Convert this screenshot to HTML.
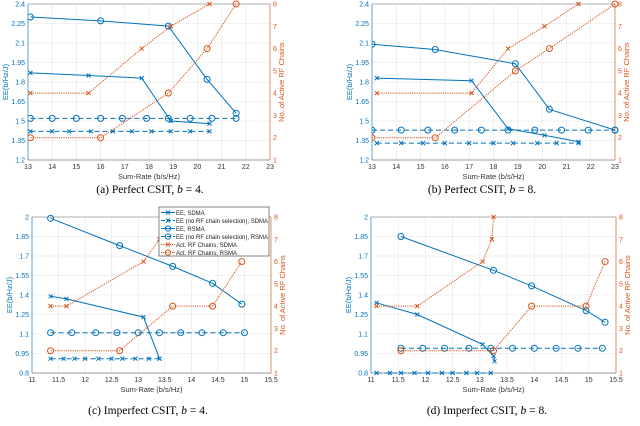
<!DOCTYPE html>
<html><head><meta charset="utf-8"><style>
body{margin:0;background:#fff;}
svg{display:block;font-family:"Liberation Sans",sans-serif;}
.cap{font-family:"Liberation Serif",serif;font-size:11.5px;fill:#000;}
</style></head>
<body>
<svg id="fig" width="640" height="426" viewBox="0 0 640 426" xmlns="http://www.w3.org/2000/svg"></svg>
<script>
// ---- Panel (a) data ----
const aSdmaX=[13.1,15.5,17.7,18.9,20.5];
const aSdmaY=[1.87,1.85,1.83,1.50,1.48];
const aSdmaNsX=[13.1,14.0,14.7,15.6,16.5,17.3,18.1,18.9,19.7,20.5];
const aSdmaNsY=[1.42,1.42,1.42,1.42,1.42,1.42,1.42,1.42,1.42,1.42];
const aRsmaX=[13.1,16.0,18.8,20.4,21.6];
const aRsmaY=[2.30,2.27,2.23,1.82,1.56];
const aRsmaNsX=[13.1,14.0,15.0,16.0,16.9,17.9,18.8,19.7,20.6,21.6];
const aRsmaNsY=[1.52,1.52,1.52,1.52,1.52,1.52,1.52,1.52,1.52,1.52];
const aActSdma=[4,4,6,7,8];
const aActRsma=[2,2,4,6,8];
// ---- Panel (b) data ----
const bSdmaX=[13.2,17.1,18.6,20.1,21.5];
const bSdmaY=[1.83,1.81,1.44,1.39,1.34];
const bSdmaNsX=[13.2,14.2,15.1,16.0,17.0,18.0,18.8,19.8,20.6,21.5];
const bSdmaNsY=[1.33,1.33,1.33,1.33,1.33,1.33,1.33,1.33,1.33,1.33];
const bRsmaX=[13.0,15.6,18.9,20.3,23.0];
const bRsmaY=[2.09,2.05,1.94,1.59,1.43];
const bRsmaNsX=[13.0,14.2,15.3,16.4,17.5,18.6,19.7,20.8,21.9,23.0];
const bRsmaNsY=[1.43,1.43,1.43,1.43,1.43,1.43,1.43,1.43,1.43,1.43];
const bActSdma=[4,4,6,7,8];
const bActRsma=[2,2,5,6,8];
// ---- Panel (c) data ----
const cSdmaX=[11.35,11.65,13.1,13.4];
const cSdmaY=[1.39,1.37,1.23,0.91];
const cSdmaNsX=[11.35,11.6,11.8,12.0,12.25,12.5,12.7,12.95,13.2,13.4];
const cSdmaNsY=[0.91,0.91,0.91,0.91,0.91,0.91,0.91,0.91,0.91,0.91];
const cRsmaX=[11.35,12.65,13.65,14.4,14.95];
const cRsmaY=[1.99,1.78,1.62,1.49,1.33];
const cRsmaNsX=[11.35,11.75,12.2,12.6,13.0,13.4,13.8,14.2,14.6,15.0];
const cRsmaNsY=[1.11,1.11,1.11,1.11,1.11,1.11,1.11,1.11,1.11,1.11];
const cActSdmaX=[11.35,11.65,13.1,13.4,13.5];
const cActSdma=[4,4,6,7,8];
const cActRsma=[2,2,4,4,6];
// ---- Panel (d) data ----
const dSdmaX=[11.1,11.85,13.05,13.25,13.27];
const dSdmaY=[1.34,1.25,1.02,0.93,0.89];
const dSdmaNsX=[11.1,11.35,11.55,11.8,12.05,12.3,12.5,12.75,12.95,13.2];
const dSdmaNsY=[0.8,0.8,0.8,0.8,0.8,0.8,0.8,0.8,0.8,0.8];
const dRsmaX=[11.55,13.25,13.95,14.95,15.3];
const dRsmaY=[1.85,1.59,1.47,1.28,1.19];
const dRsmaNsX=[11.55,11.95,12.35,12.8,13.2,13.6,14.0,14.4,14.8,15.25];
const dRsmaNsY=[0.99,0.99,0.99,0.99,0.99,0.99,0.99,0.99,0.99,0.99];
const dActSdmaX=[11.1,11.85,13.05,13.22,13.25];
const dActSdma=[4,4,6,7,8];
const dActRsma=[2,2,4,4,6];
// ---- ticks ----
const topXTicks=[13,14,15,16,17,18,19,20,21,22,23];
const topYTicks=[1.2,1.35,1.5,1.65,1.8,1.95,2.1,2.25,2.4];
const botXTicks=[11,11.5,12,12.5,13,13.5,14,14.5,15,15.5];
const botYTicks=[0.8,0.95,1.1,1.25,1.4,1.55,1.7,1.85,2];
const rTicks=[1,2,3,4,5,6,7,8];
const captions=["(a) Perfect CSIT, ","(b) Perfect CSIT, ","(c) Imperfect CSIT, ","(d) Imperfect CSIT, "];

const NS="http://www.w3.org/2000/svg";
const svg=document.getElementById('fig');
const BLUE="#0072BD", OR="#D95319";
function mk(tag,attrs,parent){const e=document.createElementNS(NS,tag);for(const k in attrs)e.setAttribute(k,attrs[k]);(parent||svg).appendChild(e);return e;}
function fmt(v){return String(Math.round(v*100)/100);}

function panel(id,L,R,T,B,xmin,xmax,ymin,ymax,xt,yt,cap,capX,capY,series){
  const g=mk('g',{});
  
  
  const sx=v=>L+(v-xmin)/(xmax-xmin)*(R-L);
  const sy=v=>B-(v-ymin)/(ymax-ymin)*(B-T);
  const sr=v=>B-(v-1)/7*(B-T);
  // grid
  xt.forEach(v=>{const l=mk('line',{x1:sx(v),x2:sx(v),y1:T,y2:B,stroke:'#e6e6e6','stroke-width':0.6},g);});
  yt.forEach(v=>{const l=mk('line',{x1:L,x2:R,y1:sy(v),y2:sy(v),stroke:'#e6e6e6','stroke-width':0.6},g);});
  // axes
  const top=mk('line',{x1:L,x2:R,y1:T,y2:T,stroke:'#999','stroke-width':0.8},g);
  const bx=mk('line',{x1:L,x2:R,y1:B,y2:B,stroke:'#444','stroke-width':0.6},g);
  const ly=mk('line',{x1:L,x2:L,y1:T,y2:B,stroke:BLUE,'stroke-width':0.6},g);
  const ry=mk('line',{x1:R,x2:R,y1:T,y2:B,stroke:OR,'stroke-width':0.6},g);
  xt.forEach(v=>{const t=mk('text',{x:sx(v),y:B+9,'font-size':7,'text-anchor':'middle',fill:'#333'},g);t.textContent=fmt(v);});
  yt.forEach(v=>{const t=mk('text',{x:L-3,y:sy(v)+2.5,'font-size':7,'text-anchor':'end',fill:BLUE},g);t.textContent=fmt(v);});
  rTicks.forEach(v=>{const t=mk('text',{x:R+3,y:sr(v)+2.5,'font-size':7,'text-anchor':'start',fill:OR},g);t.textContent=v;});
  const xl=mk('text',{x:(L+R)/2,y:B+19,'font-size':7.5,'text-anchor':'middle',fill:'#333'},g);xl.textContent='Sum-Rate (b/s/Hz)';
  const yl=mk('text',{x:0,y:0,'font-size':7.5,'text-anchor':'middle',fill:BLUE,transform:`translate(${L-20},${(T+B)/2}) rotate(-90)`},g);yl.textContent='EE(b/Hz/J)';
  const rl=mk('text',{x:0,y:0,'font-size':7.5,'text-anchor':'middle',fill:OR,transform:`translate(${R+14},${(T+B)/2}) rotate(-90)`},g);rl.textContent='No. of Active RF Chains';
  const c=mk('text',{x:capX,y:capY,'text-anchor':'middle',class:'cap'},g);c.textContent=cap;
  const it=mk('tspan',{'font-style':'italic'},c);it.textContent='b';
  const t2=mk('tspan',{},c);t2.textContent=' = '+(id==='a'||id==='c'?'4':'8')+'.';
  
  const clip=mk('clipPath',{id:'clip'+id},g);mk('rect',{x:L,y:T-6,width:R-L+6,height:B-T+12},clip);
  const sg=mk('g',{'clip-path':`url(#clip${id})`},g);
  series.forEach(s=>{
    const Y=s.right?sr:sy;
    const pts=s.x.map((v,i)=>sx(v).toFixed(1)+','+Y(s.y[i]).toFixed(1)).join(' ');
    const pl=mk('polyline',{points:pts,fill:'none',stroke:s.c,'stroke-width':1,'stroke-dasharray':s.dash||'none'},sg);
    
    
    s.x.forEach((v,i)=>{
      const px=sx(v),py=Y(s.y[i]);
      if(s.m==='o'){const m=mk('circle',{cx:px,cy:py,r:3,fill:'none',stroke:s.c,'stroke-width':1},sg);}
      else{const m=mk('path',{d:`M${px-2},${py-2}L${px+2},${py+2}M${px-2},${py+2}L${px+2},${py-2}`,stroke:s.c,'stroke-width':1},sg);}
    });
  });
  return {sx,sy};
}
function S(name,x,y,m,c,dash,right){return {name,x,y,m,c,dash,right};}
panel('a',28,270,4,160,13,23,1.2,2.4,topXTicks,topYTicks,captions[0],150,193,[
 S('ee-sdma-no-selection',aSdmaNsX,aSdmaNsY,'x',BLUE,'5,3'),
 S('ee-rsma-no-selection',aRsmaNsX,aRsmaNsY,'o',BLUE,'5,3'),
 S('ee-sdma',aSdmaX,aSdmaY,'x',BLUE),
 S('ee-rsma',aRsmaX,aRsmaY,'o',BLUE),
 S('act-rf-sdma',aSdmaX,aActSdma,'x',OR,'1.2,1',true),
 S('act-rf-rsma',aRsmaX,aActRsma,'o',OR,'1.2,1',true)]);
panel('b',372,615,4,160,13,23,1.2,2.4,topXTicks,topYTicks,captions[1],482,193,[
 S('ee-sdma-no-selection',bSdmaNsX,bSdmaNsY,'x',BLUE,'5,3'),
 S('ee-rsma-no-selection',bRsmaNsX,bRsmaNsY,'o',BLUE,'5,3'),
 S('ee-sdma',bSdmaX,bSdmaY,'x',BLUE),
 S('ee-rsma',bRsmaX,bRsmaY,'o',BLUE),
 S('act-rf-sdma',bSdmaX,bActSdma,'x',OR,'1.2,1',true),
 S('act-rf-rsma',bRsmaX,bActRsma,'o',OR,'1.2,1',true)]);
panel('c',32,271,217,373,11,15.5,0.8,2,botXTicks,botYTicks,captions[2],148,414,[
 S('ee-sdma-no-selection',cSdmaNsX,cSdmaNsY,'x',BLUE,'5,3'),
 S('ee-rsma-no-selection',cRsmaNsX,cRsmaNsY,'o',BLUE,'5,3'),
 S('ee-sdma',cSdmaX,cSdmaY,'x',BLUE),
 S('ee-rsma',cRsmaX,cRsmaY,'o',BLUE),
 S('act-rf-sdma',cActSdmaX,cActSdma,'x',OR,'1.2,1',true),
 S('act-rf-rsma',cRsmaX,cActRsma,'o',OR,'1.2,1',true)]);
panel('d',371,616,217,373,11,15.5,0.8,2,botXTicks,botYTicks,captions[3],487,414,[
 S('ee-sdma-no-selection',dSdmaNsX,dSdmaNsY,'x',BLUE,'5,3'),
 S('ee-rsma-no-selection',dRsmaNsX,dRsmaNsY,'o',BLUE,'5,3'),
 S('ee-sdma',dSdmaX,dSdmaY,'x',BLUE),
 S('ee-rsma',dRsmaX,dRsmaY,'o',BLUE),
 S('act-rf-sdma',dActSdmaX,dActSdma,'x',OR,'1.2,1',true),
 S('act-rf-rsma',dRsmaX,dActRsma,'o',OR,'1.2,1',true)]);
// legend in panel (c)
const legEntries=[['EE, SDMA','x',BLUE,'none'],['EE (no RF chain selection), SDMA','x',BLUE,'4,2'],['EE, RSMA','o',BLUE,'none'],['EE (no RF chain selection), RSMA','o',BLUE,'4,2'],['Act. RF Chains, SDMA','x',OR,'1.2,1'],['Act. RF Chains, RSMA','o',OR,'1.2,1']];
const lg=mk('g',{});


mk('rect',{x:159,y:207,width:110,height:49,fill:'#fff',stroke:'#333','stroke-width':0.6},lg);
legEntries.forEach((e,i)=>{
  const y=212.5+i*8;
  const eg=mk('g',{},lg);
  
  
  mk('line',{x1:161,x2:175,y1:y,y2:y,stroke:e[2],'stroke-width':1,'stroke-dasharray':e[3]},eg);
  if(e[1]==='o')mk('circle',{cx:168,cy:y,r:2.6,fill:'none',stroke:e[2],'stroke-width':1},eg);
  else mk('path',{d:`M166,${y-2}L170,${y+2}M166,${y+2}L170,${y-2}`,stroke:e[2],'stroke-width':1},eg);
  const t=mk('text',{x:176,y:y+2.3,'font-size':6,fill:'#222'},eg);t.textContent=e[0];
});
</script>
</body></html>
